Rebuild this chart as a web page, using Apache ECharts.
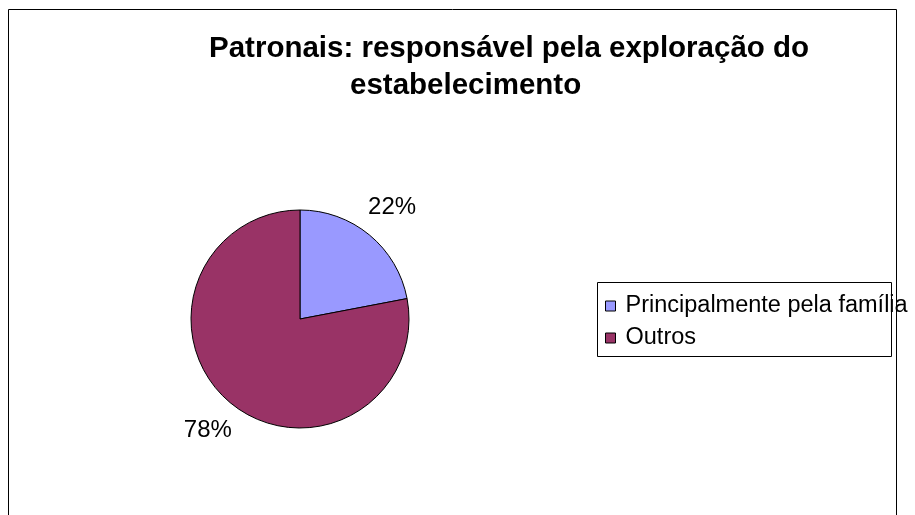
<!DOCTYPE html>
<html>
<head>
<meta charset="utf-8">
<script src="https://cdn.jsdelivr.net/npm/echarts@6/dist/echarts.min.js"></script>
<style>html,body{margin:0;padding:0;background:#fff;}#c{width:915px;height:515px;}</style>
</head>
<body>
<div id="c"></div>
<script>
const titleLines = ['Patronais: responsável pela exploração do', 'estabelecimento'];
const categories = ['Principalmente pela família', 'Outros'];
const values = [22, 78];
const colors = ['#9999FF', '#993366'];

const FONT = "'Liberation Sans', Arial, sans-serif";
const data = categories.map((n, i) => ({ name: n, value: values[i], itemStyle: { color: colors[i] } }));

const chart = echarts.init(document.getElementById('c'));
chart.setOption({
  animation: false,
  backgroundColor: '#fff',
  title: [
    { text: titleLines[0], left: 209, top: 34, padding: 0,
      textStyle: { fontFamily: FONT, fontSize: 29.5, fontWeight: 'bold', color: '#000', lineHeight: 29 } },
    { text: titleLines[1], left: 350, top: 71, padding: 0,
      textStyle: { fontFamily: FONT, fontSize: 29.5, fontWeight: 'bold', color: '#000', lineHeight: 29 } }
  ],
  legend: {
    data: categories,
    orient: 'vertical',
    left: 605,
    top: 294,
    padding: 0,
    itemGap: 8,
    itemWidth: 10,
    itemHeight: 10,
    icon: 'rect',
    itemStyle: { borderColor: '#000', borderWidth: 1 },
    textStyle: { fontFamily: FONT, fontSize: 23.5, color: '#000', lineHeight: 23, padding: [0, 0, 0, 5] },
    selectedMode: false
  },
  graphic: [
    { type: 'rect', z: 0, shape: { x: 597.5, y: 282.5, width: 294, height: 74 },
      style: { fill: '#fff', stroke: '#000', lineWidth: 1 } },
    { type: 'rect', z: 100, shape: { x: 8.5, y: 9.5, width: 888, height: 530 },
      style: { fill: 'none', stroke: '#000', lineWidth: 1 }, silent: true }
  ],
  series: [
    {
      type: 'pie',
      center: [300, 319],
      radius: 109,
      startAngle: 90,
      clockwise: true,
      data: data,
      itemStyle: { borderColor: '#000', borderWidth: 1 },
      label: { show: false },
      labelLine: { show: false },
      silent: true
    },
    {
      type: 'pie',
      center: [300, 319],
      radius: [0, 283],
      startAngle: 90,
      clockwise: true,
      data: categories.map((n, i) => ({ name: n, value: values[i] })),
      itemStyle: { color: 'transparent', borderWidth: 0 },
      label: { show: true, position: 'inside', formatter: '{d}%', fontFamily: FONT, fontSize: 24, color: '#000' },
      labelLine: { show: false },
      silent: true,
      z: 3
    }
  ]
});
</script>
</body>
</html>
